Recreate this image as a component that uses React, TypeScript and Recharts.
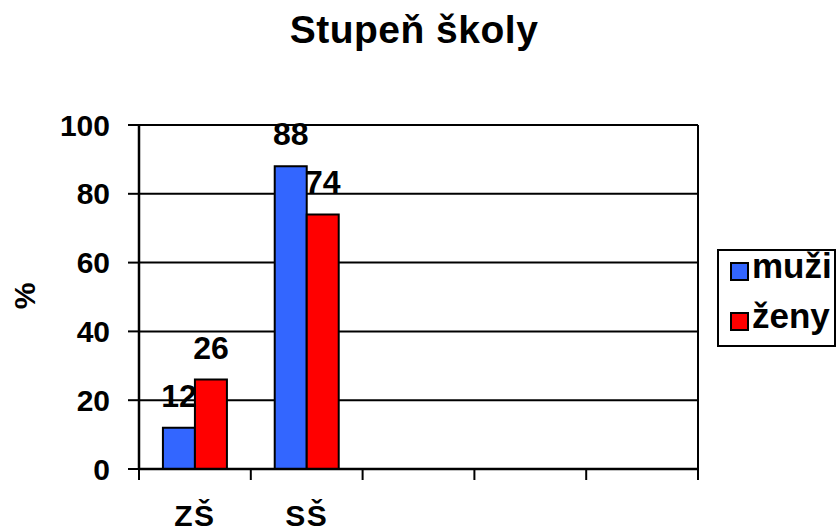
import { BarChart, Bar, XAxis, YAxis, CartesianGrid, LabelList } from 'recharts'

// podíl mužů a žen podle stupně školy (%), poslední tři sloty osy jsou prázdné
const categories = ['ZŠ', 'SŠ', '', '', '']
const muzi = [12, 88, null, null, null]
const zeny = [26, 74, null, null, null]
const yTicks = [0, 20, 40, 60, 80, 100]

const series = [
  { key: 'muzi', name: 'muži', color: '#3366FF' },
  { key: 'zeny', name: 'ženy', color: '#FF0000' },
]

const FONT = '"Liberation Sans", Arial, sans-serif'
const X_TICK_LEN = 11
const X_TICK_GAP = 25

const data = categories.map((c, i) => ({ kat: c, muzi: muzi[i], zeny: zeny[i] }))

// popisek kategorie + značky na hranicích pásem
function CategoryTick(props: any) {
  const { x, y, payload, index, visibleTicksCount } = props
  const half = payload?.offset ?? 0
  const top = y - X_TICK_GAP - X_TICK_LEN
  const bottom = y - X_TICK_GAP
  const last = index === visibleTicksCount - 1
  return (
    <g>
      <line x1={x - half} x2={x - half} y1={top} y2={bottom} stroke="#000" strokeWidth={2} />
      {last && <line x1={x + half} x2={x + half} y1={top} y2={bottom} stroke="#000" strokeWidth={2} />}
      <text
        x={x}
        y={y}
        dy="0.71em"
        textAnchor="middle"
        fill="#000"
        fontSize={30}
        fontWeight={700}
        fontFamily={FONT}
        letterSpacing={1.5}
      >
        {payload.value}
      </text>
    </g>
  )
}

export default function App() {
  return (
    <div style={{ position: 'absolute', left: 0, top: 0, width: 839, height: 531, background: '#fff' }}>
      <BarChart
        width={839}
        height={531}
        data={data}
        margin={{ top: 125, right: 141, bottom: 0, left: 0 }}
        barCategoryGap="21.4%"
        barGap={0}
      >
        <CartesianGrid
          stroke="#000"
          strokeWidth={2}
          verticalCoordinatesGenerator={({ offset }: any) => [offset.left + offset.width]}
        />
        <XAxis
          dataKey="kat"
          height={62}
          stroke="#000"
          axisLine={{ stroke: '#000', strokeWidth: 2.5 }}
          tickLine={false}
          tickSize={X_TICK_LEN}
          tickMargin={X_TICK_GAP}
          tick={<CategoryTick />}
          interval={0}
        />
        <YAxis
          width={139}
          domain={[0, 100]}
          ticks={yTicks}
          stroke="#000"
          axisLine={{ stroke: '#000', strokeWidth: 2.5 }}
          tickLine={{ stroke: '#000', strokeWidth: 2 }}
          tickSize={11}
          tickMargin={18}
          tick={{ fill: '#000', fontSize: 30, fontWeight: 700, fontFamily: FONT }}
        />
        {series.map((s) => (
          <Bar
            key={s.key}
            dataKey={s.key}
            name={s.name}
            fill={s.color}
            stroke="#000"
            strokeWidth={2}
            isAnimationActive={false}
          >
            <LabelList
              dataKey={s.key}
              position="top"
              offset={21}
              fill="#000"
              fontSize={32}
              fontWeight={700}
              fontFamily={FONT}
            />
          </Bar>
        ))}
      </BarChart>

      {/* nadpis, popis osy y a legenda */}
      <svg
        width={839}
        height={531}
        style={{ position: 'absolute', left: 0, top: 0, pointerEvents: 'none' }}
        fontFamily={FONT}
        fontWeight={700}
        fill="#000"
      >
        <text x={414} y={43} textAnchor="middle" fontSize={39} letterSpacing={0.5}>
          Stupeň školy
        </text>
        <text x={0} y={0} transform="translate(35 296) rotate(-90)" textAnchor="middle" fontSize={30}>
          %
        </text>

        <rect x={718} y={250} width={117} height={96} fill="#fff" stroke="#000" strokeWidth={2} />
        {series.map((s, i) => (
          <g key={s.key}>
            <rect x={731} y={263 + i * 50} width={17} height={17} fill={s.color} stroke="#000" strokeWidth={2} />
            <text x={752} y={278 + i * 50} fontSize={35}>
              {s.name}
            </text>
          </g>
        ))}
      </svg>
    </div>
  )
}
